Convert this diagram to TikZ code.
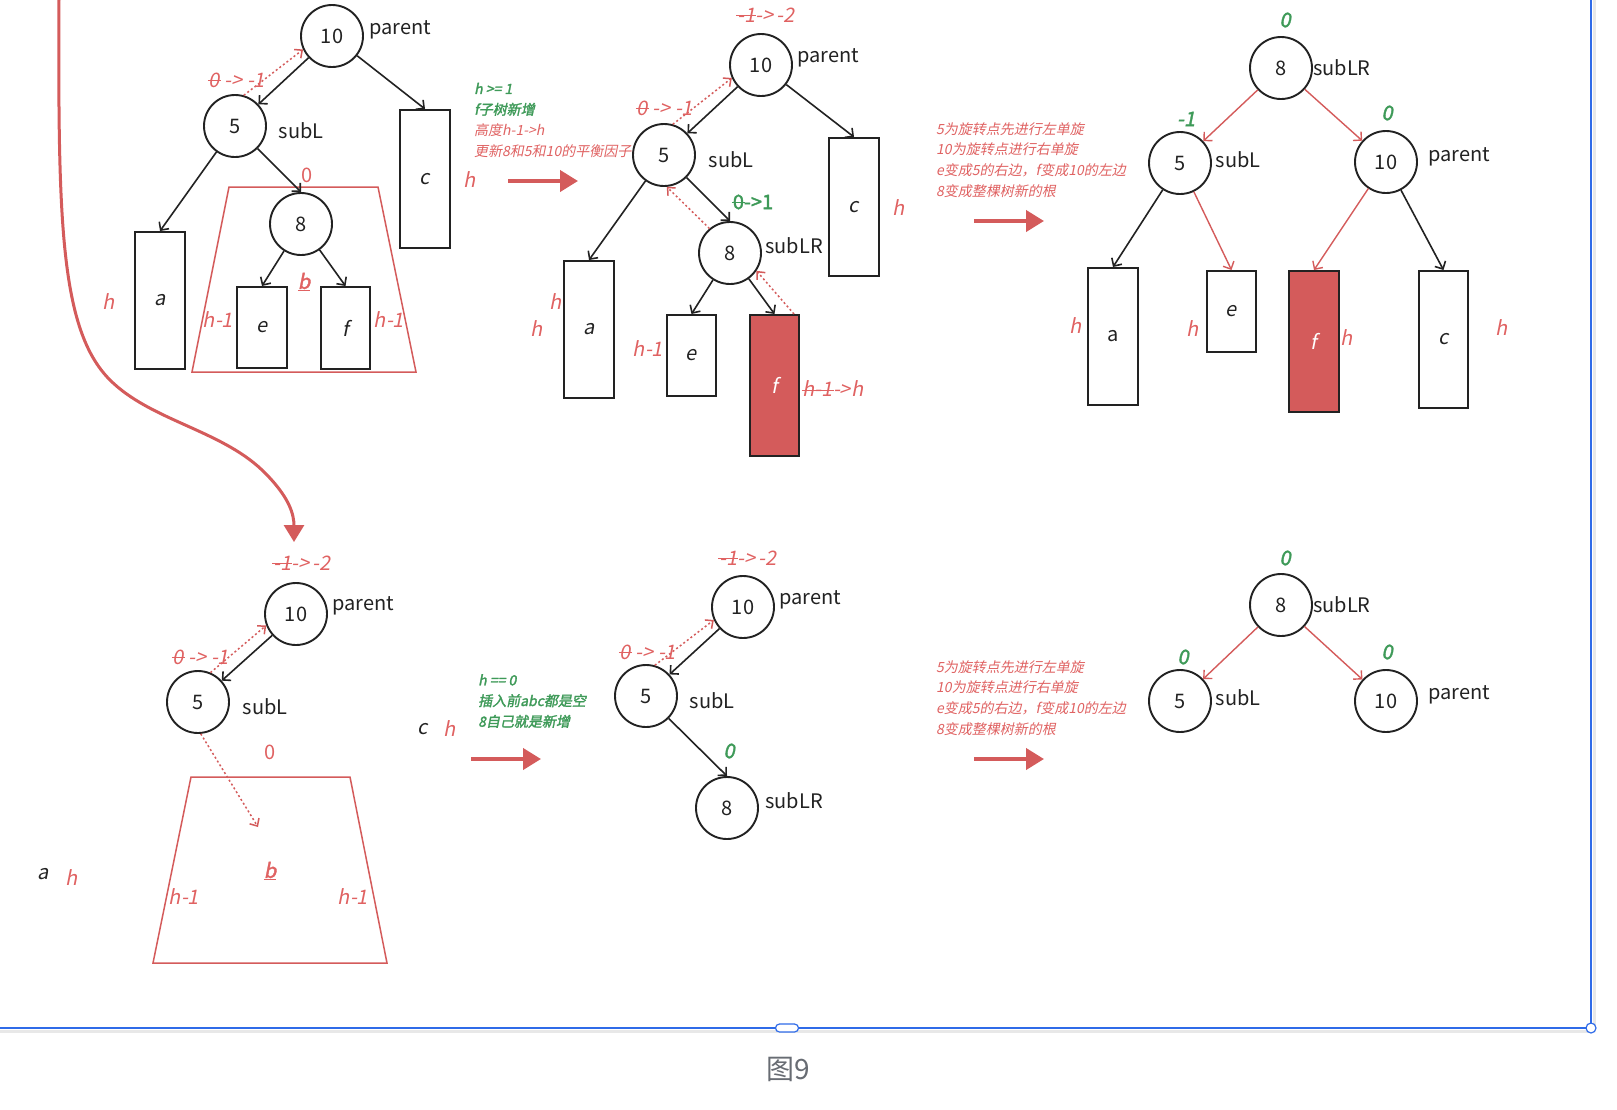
\documentclass[tikz,border=0pt]{standalone}
\usepackage{fontspec}
\setmainfont{Noto Sans CJK SC}
\newfontfamily\myit{Noto Sans CJK SC}[FakeSlant=0.2]
\newfontfamily\mybi{Noto Sans CJK SC}[FakeSlant=0.2,FakeBold=1.8]
\newfontfamily\mybd{Noto Sans CJK SC}[FakeBold=1.8]
\usetikzlibrary{arrows.meta}
\definecolor{myred}{HTML}{D45B5B}
\definecolor{tred}{HTML}{E06262}
\definecolor{mygreen}{HTML}{3E9A58}
\definecolor{myblue}{HTML}{2F6BE8}
\definecolor{ink}{HTML}{222222}
\definecolor{capgray}{HTML}{686C73}
\newsavebox\strkbox
\newcommand\strk[1]{\sbox\strkbox{#1}\rlap{\kern-1pt\rule[0.3em]{\dimexpr\wd\strkbox+2pt\relax}{1.1pt}}\usebox\strkbox}
\tikzset{
 circ/.style={circle,draw=ink,line width=1.9pt,minimum size=62pt,inner sep=0pt,font=\fontsize{20}{20}\selectfont,text=ink},
 bx/.style={draw=ink,line width=2pt,inner sep=0pt,font=\myit\fontsize{20}{20}\selectfont,text=ink},
 rbx/.style={bx,fill=myred,text=white},
 lbl/.style={font=\fontsize{20}{20}\selectfont,text=ink,inner sep=0pt},
 lt/.style={font=\myit\fontsize{20}{20}\selectfont,text=ink,inner sep=0pt},
 hl/.style={font=\myit\fontsize{20}{20}\selectfont,text=tred,inner sep=0pt},
 hlu/.style={font=\fontsize{20}{20}\selectfont,text=tred,inner sep=0pt},
 gl/.style={font=\mybi\fontsize{20}{20}\selectfont,text=mygreen,inner sep=0pt},
 glu/.style={font=\mybd\fontsize{20}{20}\selectfont,text=mygreen,inner sep=0pt},
 bl/.style={font=\mybi\fontsize{20}{20}\selectfont,text=tred,inner sep=0pt},
 note/.style={font=\myit\fontsize{14}{20.7}\selectfont,text=tred,align=left,anchor=west,inner sep=0pt},
 arr/.style={draw=ink,line width=1.6pt,-{Straight Barb[length=6pt,width=12pt]}},
 rarr/.style={arr,draw=myred,line width=1.4pt},
 darr/.style={draw=myred,line width=1.5pt,dash pattern=on 2pt off 2.5pt,-{Straight Barb[length=6pt,width=11pt]}},
 bigarr/.style={draw=myred,line width=4pt,-{Triangle[length=18pt,width=21pt]}},
 trap/.style={draw=myred,line width=1.5pt}
}
\begin{document}
\begin{tikzpicture}[x=1pt,y=-1pt]
\useasboundingbox (0,0) rectangle (1617,1109);
\fill[white] (0,0) rectangle (1617,1109);

% ---------- frame ----------
\draw[line width=3pt,black!9] (0,1031) -- (1591,1031);
\draw[line width=3pt,black!9] (1594,0) -- (1594,1028);
\draw[myblue,line width=1.5pt] (0,1028) -- (1591,1028) -- (1591,0);
\node[circle,draw=myblue,fill=white,line width=1.2pt,minimum size=10pt,inner sep=0pt] (corner) at (1591,1028) {};
\node[draw=myblue,fill=white,rounded corners=4pt,minimum width=23pt,minimum height=8pt,inner sep=0pt,line width=1.2pt] (handle) at (787,1028) {};
\node[font=\fontsize{28}{28}\selectfont,text=capgray] (cap) at (788,1069) {图9};

% ---------- big curved arrow ----------
\coordinate (cvs) at (59,0);
\coordinate (cve) at (294,542);
\draw[myred,line width=3pt,-{Triangle[length=17pt,width=20pt]}] (cvs) .. controls (58,220) and (60,330) .. (110,380) .. controls (150,420) and (220,430) .. (262,470) .. controls (290,497) and (294,515) .. (cve);

% ---------- panel 1 ----------
\draw[trap] (229,187) -- (378,187) -- (416,372) -- (192,372) -- cycle;
\node[circ] (p1n10) at (332,36) {10};
\node[lbl] (p1l10) at (400,30) {parent};
\node[circ] (p1n5) at (235,126) {5};
\node[lbl] (p1l5) at (301,131) {subL};
\node[circ] (p1n8) at (301,224) {8};
\node[bx,minimum width=50pt,minimum height=137pt] (p1a) at (160,300.5) {a};
\node[bx,minimum width=50pt,minimum height=138pt] (p1c) at (425,179) {c};
\node[bx,minimum width=50pt,minimum height=81pt] (p1e) at (262,327.5) {e};
\node[bx,minimum width=49pt,minimum height=82pt] (p1f) at (345.5,328) {f};
\draw[arr] (p1n10) -- (p1n5);
\draw[arr] (p1n10) -- (p1c.north);
\draw[arr] (p1n5) -- (p1a.north);
\draw[arr] (p1n5) -- (p1n8.north);
\draw[arr] (p1n8) -- (p1e.north);
\draw[arr] (p1n8) -- (p1f.north);
\draw[darr] (p1n5.74) -- (p1n10.205);
\node[hl] (p1bf) at (237,80) {\strk{0} -> -1};
\node[hlu] (p1z) at (307,175) {0};
\node[bl] (p1b) at (304,282) {\underline{b}};
\node[hl] (p1ha) at (109,302) {h};
\node[hl] (p1he) at (218,320) {h-1};
\node[hl] (p1hf) at (389,320) {h-1};
\node[hl] (p1hc) at (470,180) {h};

% ---------- arrow 1 + note ----------
\coordinate (a1s) at (508,181);
\coordinate (a1e) at (578,181);
\draw[bigarr] (a1s) -- (a1e);
\node[note] (t1) at (474,120) {{\mybi\color{mygreen}h >= 1}\\{\mybi\color{mygreen}f子树新增}\\高度h-1->h\\更新8和5和10的平衡因子};

% ---------- panel 2 ----------
\node[circ] (p2n10) at (761,65) {10};
\node[lbl] (p2l10) at (828,58) {parent};
\node[circ] (p2n5) at (664,155) {5};
\node[lbl] (p2l5) at (731,160) {subL};
\node[circ] (p2n8) at (730,253) {8};
\node[lbl] (p2l8) at (794,246) {subLR};
\node[bx,minimum width=50pt,minimum height=137pt] (p2a) at (589,329.5) {a};
\node[bx,minimum width=50pt,minimum height=138pt] (p2c) at (854,207) {c};
\node[bx,minimum width=49pt,minimum height=81pt] (p2e) at (691.5,355.5) {e};
\node[rbx,minimum width=49pt,minimum height=141pt] (p2f) at (774.5,385.5) {f};
\draw[arr] (p2n10) -- (p2n5);
\draw[arr] (p2n10) -- (p2c.north);
\draw[arr] (p2n5) -- (p2a.north);
\draw[arr] (p2n5) -- (p2n8.north);
\draw[arr] (p2n8) -- (p2e.north);
\draw[arr] (p2n8) -- (p2f.north);
\draw[darr] (p2n5.74) -- (p2n10.204);
\draw[darr] (p2n8.130) -- (p2n5.-85);
\draw[darr] ([xshift=-6pt]p2f.north east) -- (p2n8.-34);
\node[hl] (p2top) at (766,15) {\strk{-1}->\,-2};
\node[hl] (p2bf) at (665,108) {\strk{0} -> -1};
\node[glu] (p2g) at (753,202) {\strk{0}->1};
\node[hl] (p2ha1) at (556,302) {h};
\node[hl] (p2ha2) at (537,329) {h};
\node[hl] (p2he) at (648,349) {h-1};
\node[hl] (p2hf) at (833,389) {\strk{h-1}->h};
\node[hl] (p2hc) at (899,208) {h};

% ---------- arrow 2 + note ----------
\coordinate (a2s) at (974,221);
\coordinate (a2e) at (1044,221);
\draw[bigarr] (a2s) -- (a2e);
\node[note] (t2) at (936,160) {5为旋转点先进行左单旋\\10为旋转点进行右单旋\\e变成5的右边，f变成10的左边\\8变成整棵树新的根};

% ---------- panel 3 ----------
\node[circ] (p3n8) at (1281,68) {8};
\node[lbl,anchor=west] (p3l8) at (1313,68) {subLR};
\node[circ] (p3n5) at (1180,163) {5};
\node[lbl] (p3l5) at (1238,160) {subL};
\node[circ] (p3n10) at (1386,162) {10};
\node[lbl] (p3l10) at (1459,157) {parent};
\node[bx,font=\fontsize{20}{20}\selectfont,minimum width=50pt,minimum height=137pt] (p3a) at (1113,336.5) {a};
\node[bx,minimum width=49pt,minimum height=81pt] (p3e) at (1231.5,311.5) {e};
\node[rbx,minimum width=50pt,minimum height=141pt] (p3f) at (1314,341.5) {f};
\node[bx,minimum width=49pt,minimum height=137pt] (p3c) at (1443.5,339.5) {c};
\draw[rarr] (p3n8) -- (p3n5);
\draw[rarr] (p3n8) -- (p3n10);
\draw[arr] (p3n5) -- (p3a.north);
\draw[rarr] (p3n5) -- (p3e.north);
\draw[rarr] (p3n10) -- (p3f.north);
\draw[arr] (p3n10) -- (p3c.north);
\node[gl] (p3g8) at (1285,20) {0};
\node[gl] (p3g5) at (1186,119) {-1};
\node[gl] (p3g10) at (1387,113) {0};
\node[hl] (p3ha) at (1076,326) {h};
\node[hl] (p3he) at (1193,329) {h};
\node[hl] (p3hf) at (1347,338) {h};
\node[hl] (p3hc) at (1502,328) {h};

% ---------- panel 4 ----------
\draw[trap] (191,777) -- (350,777) -- (387,963) -- (153,963) -- cycle;
\node[circ] (p4n10) at (296,614) {10};
\node[lbl] (p4l10) at (363,606) {parent};
\node[circ] (p4n5) at (198,702) {5};
\node[lbl] (p4l5) at (265,707) {subL};
\draw[arr] (p4n10) -- (p4n5);
\draw[darr] (p4n5.67) -- (p4n10.201);
\coordinate (p4bt) at (258,827);
\draw[darr] (p4n5.-85) -- (p4bt);
\node[hl] (p4top) at (302,563) {\strk{-1}->\,-2};
\node[hl] (p4bf) at (201,657) {\strk{0} -> -1};
\node[hlu] (p4z) at (270,752) {0};
\node[bl] (p4b) at (270,871) {\underline{b}};
\node[hl] (p4h1) at (184,897) {h-1};
\node[hl] (p4h2) at (353,897) {h-1};
\node[lt] (p4a) at (43,874) {a};
\node[hl] (p4ha) at (72,878) {h};
\node[lt] (p4c) at (423,729) {c};
\node[hl] (p4hc) at (450,729) {h};

% ---------- arrow 3 + note ----------
\coordinate (a3s) at (471,759);
\coordinate (a3e) at (541,759);
\draw[bigarr] (a3s) -- (a3e);
\node[note,font=\mybi\fontsize{14}{20.7}\selectfont,text=mygreen] (t3) at (478,701) {h == 0\\插入前abc都是空\\8自己就是新增};

% ---------- panel 5 ----------
\node[circ] (p5n10) at (743,607) {10};
\node[lbl] (p5l10) at (810,600) {parent};
\node[circ] (p5n5) at (646,696) {5};
\node[lbl] (p5l5) at (712,701) {subL};
\node[circ] (p5n8) at (727,808) {8};
\node[lbl] (p5l8) at (794,801) {subLR};
\draw[arr] (p5n10) -- (p5n5);
\draw[arr] (p5n5) -- (p5n8.north);
\draw[darr] (p5n5.74) -- (p5n10.204);
\node[hl] (p5top) at (748,558) {\strk{-1}->\,-2};
\node[hl] (p5bf) at (648,652) {\strk{0} -> -1};
\node[gl] (p5g) at (729,751) {0};

% ---------- arrow 4 + note ----------
\coordinate (a4s) at (974,759);
\coordinate (a4e) at (1044,759);
\draw[bigarr] (a4s) -- (a4e);
\node[note] (t4) at (936,698) {5为旋转点先进行左单旋\\10为旋转点进行右单旋\\e变成5的右边，f变成10的左边\\8变成整棵树新的根};

% ---------- panel 6 ----------
\node[circ] (p6n8) at (1281,605) {8};
\node[lbl,anchor=west] (p6l8) at (1313,605) {subLR};
\node[circ] (p6n5) at (1180,701) {5};
\node[lbl] (p6l5) at (1238,698) {subL};
\node[circ] (p6n10) at (1386,701) {10};
\node[lbl] (p6l10) at (1459,695) {parent};
\draw[rarr] (p6n8) -- (p6n5);
\draw[rarr] (p6n8) -- (p6n10);
\node[gl] (p6g8) at (1285,558) {0};
\node[gl] (p6g5) at (1183,657) {0};
\node[gl] (p6g10) at (1387,652) {0};
\end{tikzpicture}
\end{document}
